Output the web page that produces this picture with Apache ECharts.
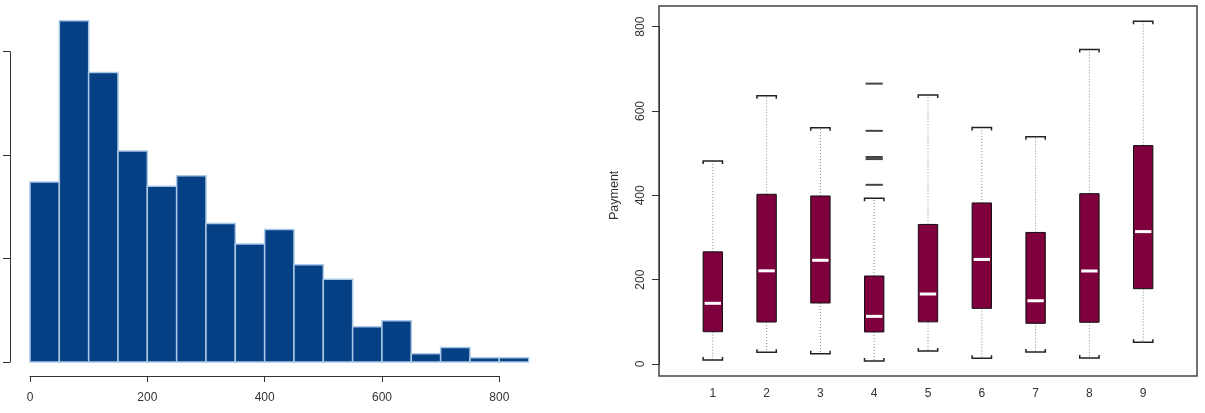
<!DOCTYPE html>
<html>
<head>
<meta charset="utf-8">
<script src="https://cdn.jsdelivr.net/npm/echarts@6/dist/echarts.min.js"></script>
<style>
  html, body { margin: 0; padding: 0; background: #fff; }
  #chart { width: 1205px; height: 413px; }
</style>
</head>
<body>
<div id="chart"></div>
<script>
// 直方图数据 (bin 宽 50)
const binStarts = [0, 50, 100, 150, 200, 250, 300, 350, 400, 450, 500, 550, 600, 650, 700, 750, 800];
const binCounts = [87, 165, 140, 102, 85, 90, 67, 57, 64, 47, 40, 17, 20, 4, 7, 2, 2];
const binWidth = 50;

// 箱线图数据
const groups = [1, 2, 3, 4, 5, 6, 7, 8, 9];
const mins    = [9.5, 27.7, 24.4, 7, 31, 13.5, 28.5, 14, 51.5];
const q1s     = [76.6, 99.6, 144.7, 76, 100, 132, 96.5, 99, 178.6];
const medians = [144, 221, 246, 113, 166, 248, 150, 220.6, 314];
const q3s     = [266, 402.5, 398.5, 208.7, 331, 382, 312, 404, 518];
const maxs    = [481.5, 636, 560.5, 393, 638, 561, 539, 746, 813];
const outlierGroup = [4, 4, 4, 4, 4];
const outlierValues = [665, 553, 491, 486, 425];

const colors = {
    bar: '#053f84',
    barBorder: '#a9c8e6',
    box: '#7e003c',
    axis: '#333',
    text: '#333'
};
const font = 'Liberation Sans, Arial, sans-serif';

const chart = echarts.init(document.getElementById('chart'));

function renderHistBar(params, api) {
    const start = api.value(0);
    const end = api.value(1);
    const count = api.value(2);
    const p0 = api.coord([start, count]);
    const p1 = api.coord([end, 0]);
    return {
        type: 'rect',
        shape: { x: p0[0], y: p0[1], width: p1[0] - p0[0], height: p1[1] - p0[1] },
        style: { fill: colors.bar, stroke: colors.barBorder, lineWidth: 1.5 }
    };
}

function renderBox(params, api) {
    const x = api.value(0);
    const hw = api.size([0.18, 0])[0];
    const pMin = api.coord([x, api.value(1)]);
    const pQ1 = api.coord([x, api.value(2)]);
    const pMed = api.coord([x, api.value(3)]);
    const pQ3 = api.coord([x, api.value(4)]);
    const pMax = api.coord([x, api.value(5)]);
    const cx = pMed[0];
    const whisker = { stroke: '#888', lineWidth: 1, lineDash: [1, 2] };
    const cap = { stroke: '#222', lineWidth: 1.5, fill: null };
    return {
        type: 'group',
        children: [
            { type: 'line', shape: { x1: cx, y1: pQ3[1], x2: cx, y2: pMax[1] }, style: whisker },
            { type: 'line', shape: { x1: cx, y1: pQ1[1], x2: cx, y2: pMin[1] }, style: whisker },
            { type: 'polyline', shape: { points: [[cx - hw, pMax[1] + 3], [cx - hw, pMax[1]], [cx + hw, pMax[1]], [cx + hw, pMax[1] + 3]] }, style: cap },
            { type: 'polyline', shape: { points: [[cx - hw, pMin[1] - 3], [cx - hw, pMin[1]], [cx + hw, pMin[1]], [cx + hw, pMin[1] - 3]] }, style: cap },
            { type: 'rect', shape: { x: cx - hw, y: pQ3[1], width: hw * 2, height: pQ1[1] - pQ3[1] },
              style: { fill: colors.box, stroke: '#111', lineWidth: 1 } },
            { type: 'line', shape: { x1: cx - hw + 1.5, y1: pMed[1], x2: cx + hw - 1.5, y2: pMed[1] },
              style: { stroke: '#fff', lineWidth: 3 } }
        ]
    };
}

function renderOutlier(params, api) {
    const p = api.coord([api.value(0), api.value(1)]);
    const hw = api.size([0.16, 0])[0];
    return {
        type: 'line',
        shape: { x1: p[0] - hw, y1: p[1], x2: p[0] + hw, y2: p[1] },
        style: { stroke: '#444', lineWidth: 2 }
    };
}

const option = {
    animation: false,
    backgroundColor: '#fff',
    textStyle: { fontFamily: font },
    grid: [
        { left: 30, top: 51.7, width: 469.3, height: 310.3 },
        { left: 659, top: 26.7, width: 538, height: 337.3 },
        { left: 659, top: 6, width: 538, height: 370, show: true, borderColor: '#444', borderWidth: 1.5, backgroundColor: 'transparent' },
        { left: 10, top: 51.7, width: 10, height: 310.3 }
    ],
    xAxis: [
        {
            gridIndex: 0, type: 'value', min: 0, max: 800, interval: 200,
            offset: 14,
            splitLine: { show: false },
            axisLine: { show: true, onZero: false, lineStyle: { color: colors.axis } },
            axisTick: { show: true, length: 6, lineStyle: { color: colors.axis } },
            axisLabel: { color: colors.text, fontSize: 12, margin: 16, fontFamily: font }
        },
        {
            gridIndex: 1, type: 'value', min: 0, max: 10, interval: 1,
            splitLine: { show: false },
            axisLine: { show: false },
            axisTick: { show: false },
            axisLabel: {
                color: colors.text, fontSize: 12, margin: 24, fontFamily: font,
                formatter: v => (groups.indexOf(v) >= 0 ? String(v) : '')
            }
        },
        { gridIndex: 2, type: 'value', show: false, min: 0, max: 1 },
        { gridIndex: 3, type: 'value', show: false, min: 0, max: 1 }
    ],
    yAxis: [
        {
            gridIndex: 0, type: 'value', min: 0, max: 150, interval: 50,
            show: false
        },
        {
            gridIndex: 1, type: 'value', min: 0, max: 800, interval: 200,
            name: 'Payment', nameLocation: 'middle', nameGap: 38,
            nameTextStyle: { color: colors.text, fontSize: 12.5, fontFamily: font },
            splitLine: { show: false },
            axisLine: { show: true, lineStyle: { color: colors.axis } },
            axisTick: { show: true, length: 7, lineStyle: { color: colors.axis } },
            axisLabel: { color: colors.text, fontSize: 12, rotate: 90, margin: 12, fontFamily: font }
        },
        { gridIndex: 2, type: 'value', show: false, min: 0, max: 1 },
        {
            // 直方图纵轴 (刻度标签被裁掉)
            gridIndex: 3, type: 'value', min: 0, max: 150, interval: 50,
            position: 'left',
            splitLine: { show: false },
            axisLine: { show: true, lineStyle: { color: colors.axis } },
            axisTick: { show: true, length: 7, lineStyle: { color: colors.axis } },
            axisLabel: { show: false }
        }
    ],
    series: [
        {
            type: 'custom',
            xAxisIndex: 0, yAxisIndex: 0,
            clip: false,
            renderItem: renderHistBar,
            encode: { x: [0, 1], y: 2 },
            data: binStarts.map((s, i) => [s, s + binWidth, binCounts[i]])
        },
        {
            type: 'custom',
            xAxisIndex: 1, yAxisIndex: 1,
            clip: false,
            renderItem: renderBox,
            encode: { x: 0, y: [1, 2, 3, 4, 5] },
            data: groups.map((g, i) => [g, mins[i], q1s[i], medians[i], q3s[i], maxs[i]])
        },
        {
            type: 'custom',
            xAxisIndex: 1, yAxisIndex: 1,
            clip: false,
            renderItem: renderOutlier,
            encode: { x: 0, y: 1 },
            data: outlierGroup.map((g, i) => [g, outlierValues[i]])
        }
    ]
};

chart.setOption(option);
</script>
</body>
</html>
